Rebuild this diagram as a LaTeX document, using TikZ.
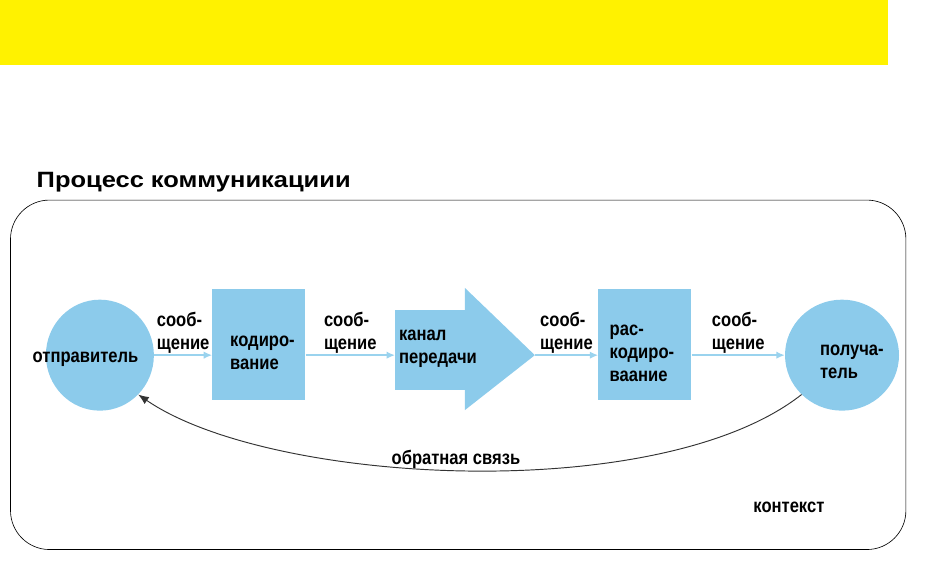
\documentclass[tikz,border=0pt]{standalone}
\usepackage{fontspec}
\setmainfont[FakeStretch=0.85]{Liberation Sans}
\usetikzlibrary{positioning,shapes.geometric,arrows.meta}
\definecolor{boxblue}{HTML}{8CCBEB}
\definecolor{lineblue}{HTML}{9AD3EE}
\tikzset{
  lbl/.style={font=\bfseries\fontsize{18.5}{22}\selectfont, align=left, inner sep=1pt},
  codebox/.style={fill=boxblue, minimum width=3.1cm, minimum height=3.7cm, inner sep=2pt},
  person/.style={ellipse, fill=boxblue, minimum width=3.6cm, minimum height=3.7cm, inner sep=0pt},
  flow/.style={-{Latex[length=8pt,width=7pt]}, draw=lineblue, line width=1.5pt}
}
\begin{document}
\begin{tikzpicture}[x=1cm,y=1cm]
\useasboundingbox (0,0) rectangle (30.97,19.07);
% yellow banner
\fill[yellow] (0,19.07) rectangle (29.6,16.9);
\node[anchor=west, font=\addfontfeature{FakeStretch=1.15}\fontsize{21}{24}\selectfont\bfseries] (title) at (1.1,13.0) {Процесс коммуникациии};
% frame
\draw[rounded corners=1.3cm, line width=0.6pt] (0.35,0.75) rectangle (30.2,12.4);

\node[person] (sender) at (3.33,7.23) {};
\node[lbl] (sendertxt) at (2.85,7.1) {отправитель};
\node[codebox] (coding) at (8.63,7.6) {};
\node[lbl] (codingtxt) at (8.75,7.3) {кодиро-\\вание};
% channel arrow
\fill[boxblue] (13.17,8.73) -- (15.5,8.73) -- (15.5,9.47) -- (17.83,7.23)
  -- (15.5,5.4) -- (15.5,6.07) -- (13.17,6.07) -- cycle;
\coordinate (channelin) at (13.17,7.23);
\coordinate (channeltip) at (17.83,7.23);
\node[lbl] (channeltxt) at (14.6,7.45) {канал\\передачи};
\node[codebox] (decoding) at (21.5,7.6) {};
\node[lbl] (decodingtxt) at (21.4,7.3) {рас-\\кодиро-\\ваание};
\node[person, minimum width=3.8cm] (receiver) at (28.07,7.23) {};
\node[lbl] (receivertxt) at (28.4,7.0) {получа-\\тель};

\draw[flow] (sender.east) -- (coding.west |- sender.east)
  node[lbl, midway, above] (msg1) {сооб-\\щение};
\draw[flow] (coding.east |- sender.east) -- (channelin)
  node[lbl, midway, above] (msg2) {сооб-\\щение};
\draw[flow] (channeltip) -- (decoding.west |- channeltip)
  node[lbl, midway, above] (msg3) {сооб-\\щение};
\draw[flow] (decoding.east |- channeltip) -- (receiver.west)
  node[lbl, midway, above] (msg4) {сооб-\\щение};

% feedback
\draw[-{Latex[length=10pt,width=8pt]}, line width=0.9pt, gray!40!black] (receiver.south west) .. controls (22,2.2) and (9,2.9) .. (sender.south east);
\node[lbl] (feedback) at (15.2,3.75) {обратная связь};
\node[lbl] (context) at (26.3,2.15) {контекст};
\end{tikzpicture}
\end{document}
